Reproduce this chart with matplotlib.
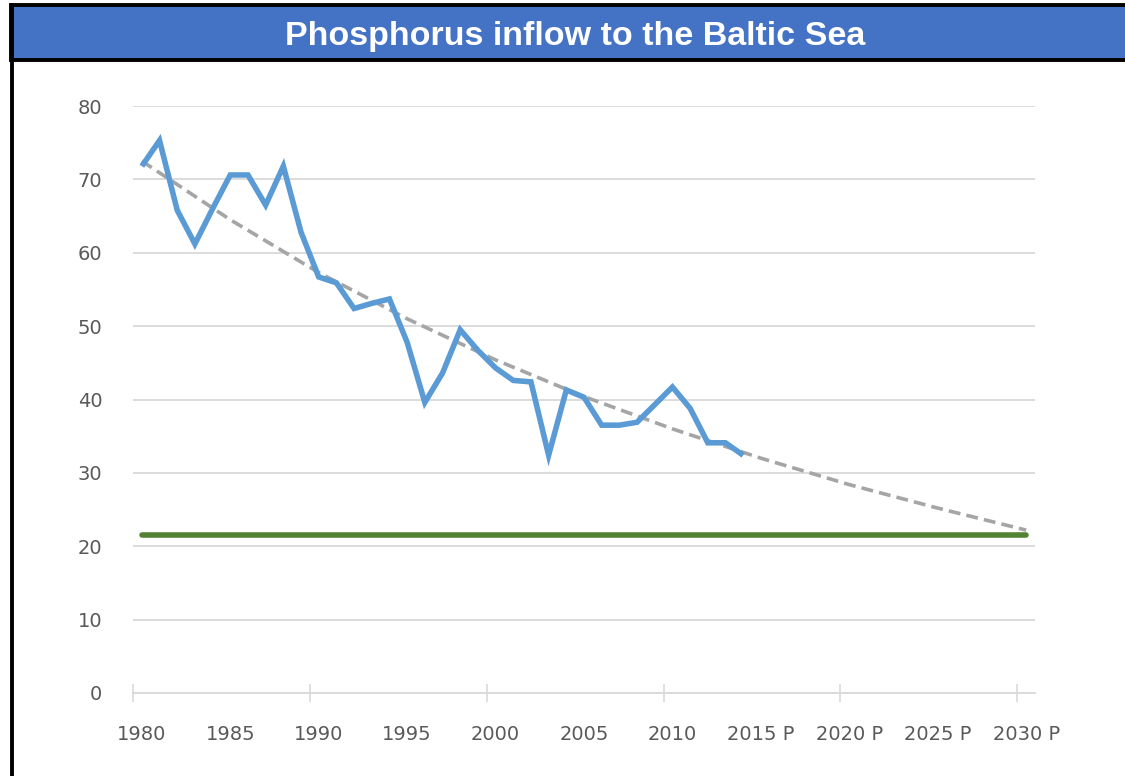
import matplotlib
matplotlib.use("Agg")
import matplotlib.pyplot as plt
from matplotlib.patches import Rectangle
from matplotlib.lines import Line2D

# ---- data ----
years = list(range(1980, 2031))
year_labels = ["1980", "1985", "1990", "1995", "2000", "2005", "2010",
               "2015 P", "2020 P", "2025 P", "2030 P"]
label_years = [1980, 1985, 1990, 1995, 2000, 2005, 2010, 2015, 2020, 2025, 2030]

inflow_years = list(range(1980, 2015))
inflow = [71.8, 75.3, 65.8, 61.2, 66.0, 70.6, 70.6, 66.5, 71.8, 62.8,
          56.7, 55.9, 52.4, 53.1, 53.7, 47.8, 39.6, 43.6, 49.5, 46.7,
          44.3, 42.6, 42.4, 32.4, 41.3, 40.3, 36.5, 36.5, 36.9, 39.3,
          41.7, 38.8, 34.1, 34.1, 32.4]

trend_years = [1980, 1985, 1990, 1995, 2000, 2005, 2010, 2015, 2020, 2025, 2030]
trend = [72.5, 64.5, 57.3, 51.0, 45.4, 40.4, 36.0, 32.0, 28.4, 25.2, 22.2]

target = 21.5
target_span = [1980, 2030]

yticks = [0, 10, 20, 30, 40, 50, 60, 70, 80]

# ---- figure ----
W, H = 1125, 776
fig = plt.figure(figsize=(W / 100, H / 100), dpi=100)
fig.patch.set_facecolor("white")

def fx(px):
    return px / W

def fy(py):
    return 1 - py / H

ax = fig.add_axes([fx(133), fy(693), (1035 - 133) / W, (693 - 106) / H])

def idx(y):
    return y - years[0]

ax.plot([idx(y) for y in trend_years], trend, color="#A5A5A5", lw=2.6,
        dashes=(3.3, 1.7), zorder=3)
ax.plot([idx(y) for y in target_span], [target, target], color="#548235",
        lw=4.0, solid_capstyle="round", zorder=2)
ax.plot([idx(y) for y in inflow_years], inflow, color="#5B9BD5", lw=4.0,
        solid_joinstyle="miter", solid_capstyle="butt", zorder=4)

ax.set_xlim(-0.5, len(years) - 0.5)
ax.set_ylim(0, 80)

# gridlines
ax.set_yticks(yticks)
ax.set_yticklabels([str(v) for v in yticks])
ax.yaxis.grid(True, color="#D9D9D9", lw=1.3)
ax.set_axisbelow(True)
ax.tick_params(axis="y", length=0, pad=22, labelsize=14, labelcolor="#595959")

# x axis: tick marks at category boundaries every 10, labels every 5
ax.set_xticks([-0.5 + 10 * k for k in range(6)])
ax.set_xticklabels([])
ax.tick_params(axis="x", which="major", direction="inout", length=13,
               width=1.2, color="#D9D9D9")
ax.set_xticks([idx(y) for y in label_years], minor=True)
ax.set_xticklabels(year_labels, minor=True)
ax.tick_params(axis="x", which="minor", length=0, pad=23, labelsize=14,
               labelcolor="#595959")

for s in ["top", "right", "left"]:
    ax.spines[s].set_visible(False)
ax.spines["bottom"].set_color("#D9D9D9")
ax.spines["bottom"].set_linewidth(1.3)
ax.spines["bottom"].set_zorder(1)

# ---- frame / title bar ----
fig.add_artist(Rectangle((fx(11), fy(60)), 1 - fx(11) + 0.01, (60 - 5) / H,
                         transform=fig.transFigure, facecolor="#4472C4",
                         edgecolor="black", lw=2.8, zorder=5))
fig.add_artist(Line2D([fx(11.5), fx(11.5)], [0, fy(5)], transform=fig.transFigure,
                      color="black", lw=2.8, zorder=6))
fig.text(fx(575), fy(36), "Phosphorus inflow to the Baltic Sea", color="white",
         fontsize=24.5, fontweight="bold", family="Liberation Sans",
         ha="center", va="center", zorder=7)

fig.savefig("out.png", dpi=100, facecolor="white")
